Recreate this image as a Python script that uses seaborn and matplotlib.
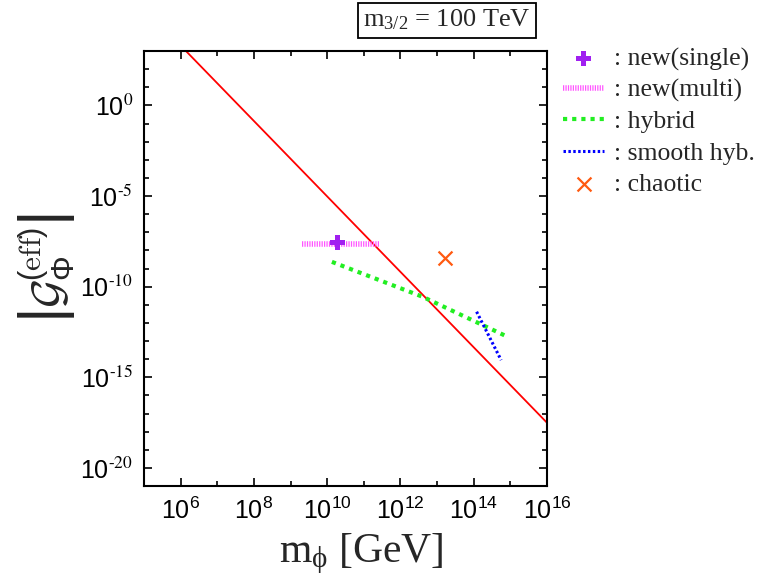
import numpy as np
import pandas as pd
import seaborn as sns
import matplotlib
matplotlib.use("Agg")
import matplotlib.pyplot as plt
from matplotlib.ticker import FixedLocator, NullFormatter

# values (log10 of GeV / coupling)
red_logx = [6.0, 16.0]
red_logy = [3.3, -17.5]

single_logx = [10.29]
single_logy = [-7.55]

multi_logx = [9.32, 11.41]
multi_logy = [-7.65, -7.65]

hybrid_logx = [10.13, 12.61, 14.88]
hybrid_logy = [-8.63, -10.56, -12.72]

smooth_logx = [14.08, 14.75]
smooth_logy = [-11.38, -14.05]

chaotic_logx = [13.23]
chaotic_logy = [-8.44]

legend_labels = [": new(single)", ": new(multi)", ": hybrid", ": smooth hyb.", ": chaotic"]

sns.set_style("ticks")
plt.rcParams["font.family"] = ["Liberation Sans", "DejaVu Sans"]
plt.rcParams["mathtext.fontset"] = "stix"
plt.rcParams["mathtext.default"] = "regular"

def frame(lx, ly):
    return pd.DataFrame({"x": np.power(10.0, lx), "y": np.power(10.0, ly)})

fig = plt.figure(figsize=(7.66, 5.76), dpi=100)
ax = fig.add_axes([0.188, 0.156, 0.526, 0.7555])
ax.set_xscale("log")
ax.set_yscale("log")

sns.lineplot(data=frame(red_logx, red_logy), x="x", y="y", ax=ax, color="#ff0000",
             lw=1.3, sort=False, errorbar=None)
sns.lineplot(data=frame(multi_logx, multi_logy), x="x", y="y", ax=ax, color="#ff55ff",
             lw=4.0, sort=False, errorbar=None)
l_multi = ax.lines[-1]
l_multi.set_linestyle((0, (0.22, 0.22)))
sns.lineplot(data=frame(hybrid_logx, hybrid_logy), x="x", y="y", ax=ax, color="#22ee22",
             lw=3.0, sort=False, errorbar=None)
l_hyb = ax.lines[-1]
l_hyb.set_linestyle((0, (1.0, 1.2)))
sns.lineplot(data=frame(smooth_logx, smooth_logy), x="x", y="y", ax=ax, color="#0000ff",
             lw=2.2, sort=False, errorbar=None)
l_smooth = ax.lines[-1]
l_smooth.set_linestyle((0, (0.8, 0.8)))

sns.scatterplot(data=frame(single_logx, single_logy), x="x", y="y", ax=ax,
                marker="P", s=110, color="#a020f0", edgecolor="none", zorder=5)
p_single = ax.collections[-1]
sns.scatterplot(data=frame(chaotic_logx, chaotic_logy), x="x", y="y", ax=ax,
                marker="x", s=100, color="#ff5a10", linewidth=1.6, zorder=5)
p_chaotic = ax.collections[-1]

ax.set_xlim(1e5, 1e16)
ax.set_ylim(1e-21, 1e3)

xmaj = [10.0 ** e for e in range(6, 17, 2)]
xmin = [10.0 ** e for e in range(5, 16, 2)]
ymaj = [10.0 ** e for e in range(-20, 1, 5)]
ymin = [10.0 ** e for e in range(-21, 4) if e % 5 != 0]
ax.xaxis.set_major_locator(FixedLocator(xmaj))
ax.xaxis.set_minor_locator(FixedLocator(xmin))
ax.yaxis.set_major_locator(FixedLocator(ymaj))
ax.yaxis.set_minor_locator(FixedLocator(ymin))
ax.set_xticklabels([r"10$^{%d}$" % e for e in range(6, 17, 2)])
ax.set_yticklabels([r"10$^{\text{%d}}$" % e for e in range(-20, 1, 5)])
ax.xaxis.set_minor_formatter(NullFormatter())
ax.yaxis.set_minor_formatter(NullFormatter())
ax.tick_params(which="both", direction="in", top=True, right=True, width=1.2,
               labelsize=18, colors="black")
ax.tick_params(which="major", length=6, pad=8)
ax.tick_params(which="minor", length=3.5)
for sp in ax.spines.values():
    sp.set_linewidth(1.5)
    sp.set_color("black")

ax.set_xlabel(r"m$_{\phi}$ [GeV]", fontsize=30, family="Liberation Serif")
ax.xaxis.set_label_coords(0.54, -0.105)
ax.set_ylabel(r"$\left|\mathcal{G}_{\Phi}^{(\mathrm{eff})}\right|$", fontsize=32,
              math_fontfamily="cm", labelpad=2)

fig.text(0.5836, 0.965, r"m$_{3/2}$ = 100 TeV", ha="center", va="center", fontsize=19,
         family="Liberation Serif",
         bbox=dict(boxstyle="square,pad=0.2", fc="white", ec="black", lw=1.3))

handles = [p_single, l_multi, l_hyb, l_smooth, p_chaotic]
ax.legend(handles, legend_labels, loc="upper left", bbox_to_anchor=(0.735, 0.918),
          bbox_transform=fig.transFigure, frameon=False,
          prop={"family": "Liberation Serif", "size": 18.5},
          handlelength=1.6, handletextpad=0.4, labelspacing=0.32, borderpad=0,
          borderaxespad=0)

fig.savefig("out.png", dpi=100)
